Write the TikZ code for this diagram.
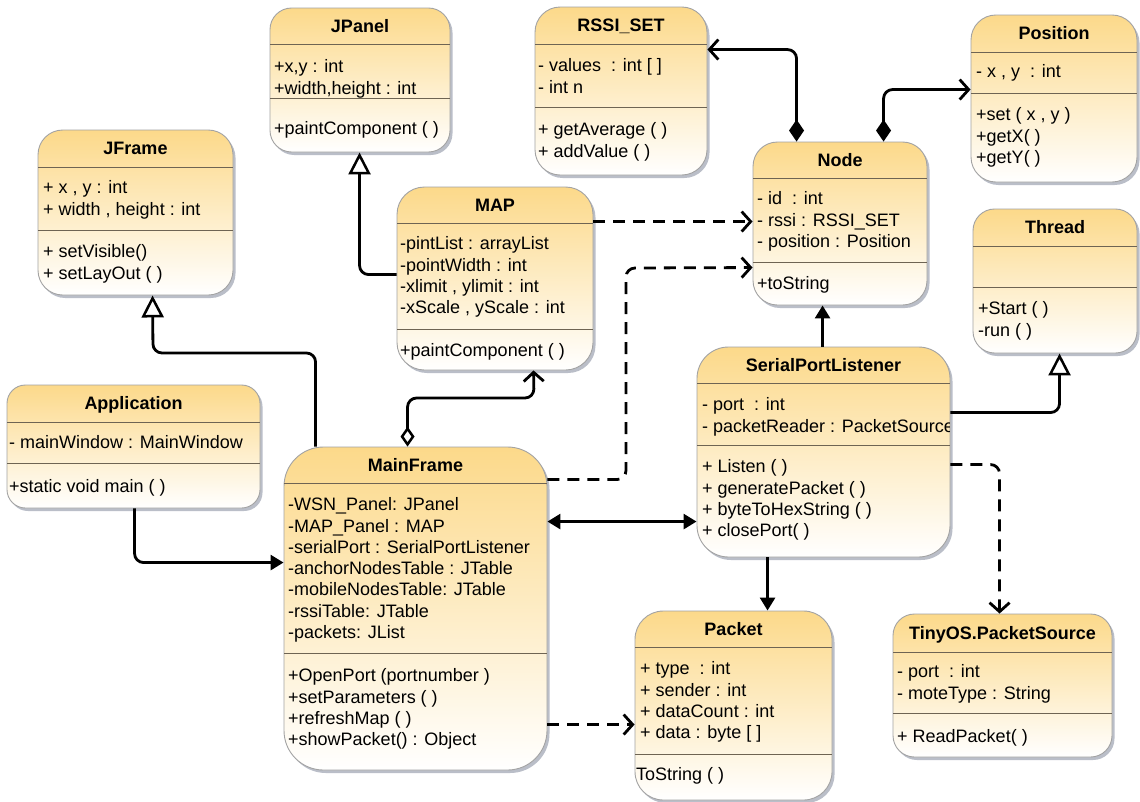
\documentclass[tikz,border=0pt]{standalone}
\usepackage{fontspec}
\setmainfont{Liberation Sans}
\usetikzlibrary{arrows.meta,shadows}
\definecolor{hdr}{HTML}{FCD98A}
\definecolor{bodybot}{HTML}{FFFFFF}
\definecolor{boxborder}{HTML}{A3A3A3}
\definecolor{sepc}{HTML}{6E6453}
\definecolor{shadowc}{HTML}{A9AEBB}
\newcommand{\cstrut}{\rule[-6.3pt]{0pt}{21.3pt}}
\newcommand{\umlbox}[8]{%
  \pgfmathsetmacro\bw{#4-#2}%
  \pgfmathsetmacro\bh{#5-#3}%
  \pgfmathsetmacro\br{0.15*min(\bw,\bh)}%
  \node[classbox, minimum width=\bw pt, minimum height=\bh pt, rounded corners=\br pt] (#1) at ({(#2+#4)/2},{(#3+#5)/2}) {};
  \draw[sepline] (#2,#6) -- (#4,#6);
  \draw[sepline] (#2,#7) -- (#4,#7);
  \node[titletext] (#1-title) at ({(#2+#4)/2},{(#3+#6)/2}) {#8};
}
\tikzset{
  classbox/.style={draw=boxborder, line width=0.9pt, top color=hdr, bottom color=bodybot,
    drop shadow={shadow xshift=2.5pt, shadow yshift=-3pt, fill=shadowc, opacity=0.8}},
  sepline/.style={draw=sepc, line width=1pt},
  titletext/.style={anchor=base, yshift=-6.4pt, inner sep=0pt, font=\bfseries\fontsize{18}{21.3}\selectfont},
  txt/.style={anchor=north west, yshift=9.5pt, inner sep=0pt, align=left, font=\fontsize{18}{21.3}\selectfont},
  conn/.style={line width=2.8pt, rounded corners=9pt, line join=round},
  gen/.style={conn, -{Triangle[length=22pt, width=22pt, fill=white, line width=2.5pt]}},
  dep/.style={conn, dash pattern=on 12pt off 8pt, -{Straight Barb[length=9pt, width=20pt, line width=2.8pt]}},
  assoc/.style={conn, -{Triangle[length=13pt, width=15pt]}},
  bidir/.style={conn, {Triangle[length=13pt, width=15pt]}-{Triangle[length=13pt, width=15pt]}},
  comp/.style={conn, {Diamond[length=22pt, width=15pt]}-{Straight Barb[length=9pt, width=20pt, line width=2.8pt]}},
  agg/.style={conn, {Diamond[length=20pt, width=14pt, fill=white, line width=2.5pt]}-{Straight Barb[length=9pt, width=20pt, line width=2.8pt]}},
}
\begin{document}
\begin{tikzpicture}[x=1pt, y=-1pt]
\useasboundingbox (0,0) rectangle (1140,801);
\fill[white] (0,0) rectangle (1140,801);

% ---------- classes ----------
\umlbox{jframe}{38}{130}{233}{295}{167}{230}{JFrame}
\node[txt] (jframe-a) at (43,188) {\cstrut+ x , y : int\\+ width , height : int};
\node[txt] (jframe-m) at (43,252) {\cstrut+ setVisible()\\+ setLayOut ( )};

\umlbox{jpanel}{270}{8}{450}{152}{44}{98}{JPanel}
\node[txt] (jpanel-a) at (274,67) {\cstrut+x,y : int\\+width,height : int};
\node[txt] (jpanel-m) at (274,129) {\cstrut+paintComponent ( )};

\umlbox{rssi}{535}{7}{707}{175}{44}{107}{RSSI\_SET}
\node[txt] (rssi-a) at (538,66) {\cstrut- values\ \ : int [ ]\\- int n};
\node[txt] (rssi-m) at (538,130) {\cstrut+ getAverage ( )\\+ addValue ( )};

\umlbox{map}{397}{187}{593}{370}{223}{329}{MAP}
\node[txt] (map-a) at (400,244) {\cstrut-pintList : arrayList\\-pointWidth : int\\-xlimit , ylimit : int\\-xScale , yScale : int};
\node[txt] (map-m) at (400,351) {\cstrut+paintComponent ( )};

\umlbox{position}{971}{15}{1137}{182}{52}{93}{Position}
\node[txt] (position-a) at (976,72) {\cstrut- x , y\ \ : int};
\node[txt] (position-m) at (976,115) {\cstrut+set ( x , y )\\+getX( )\\+getY( )};

\umlbox{nodecls}{753}{142}{927}{305}{178}{262}{Node}
\node[txt] (nodecls-a) at (757,199) {\cstrut- id\ \ : int\\- rssi : RSSI\_SET\\- position : Position};
\node[txt] (nodecls-m) at (757,284) {\cstrut+toString};

\umlbox{thread}{973}{209}{1137}{353}{246}{287}{Thread}
\node[txt] (thread-m) at (978,309) {\cstrut+Start ( )\\-run ( )};

\umlbox{app}{7}{385}{260}{508}{422}{463}{Application}
\node[txt] (app-a) at (9,443) {\cstrut- mainWindow : MainWindow};
\node[txt] (app-m) at (9,487) {\cstrut+static void main ( )};

\umlbox{mainframe}{284}{447}{547}{770}{483}{653}{MainFrame}
\node[txt] (mainframe-a) at (288,505) {\cstrut-WSN\_Panel: JPanel\\-MAP\_Panel : MAP\\-serialPort : SerialPortListener\\-anchorNodesTable : JTable\\-mobileNodesTable: JTable\\-rssiTable: JTable\\-packets: JList};
\node[txt] (mainframe-m) at (288,676) {\cstrut+OpenPort (portnumber )\\+setParameters ( )\\+refreshMap ( )\\+showPacket() : Object};

\umlbox{spl}{697}{347}{950}{557}{383}{445}{SerialPortListener}
\begin{scope}
  \clip (spl.north west) rectangle ([xshift=-1pt]spl.south east);
  \node[txt] (spl-a) at (702,405) {\cstrut- port\ \ : int\\- packetReader : PacketSource};
\end{scope}
\node[txt] (spl-m) at (702,467) {\cstrut+ Listen ( )\\+ generatePacket ( )\\+ byteToHexString ( )\\+ closePort( )};

\umlbox{packet}{635}{611}{832}{800}{647}{754}{Packet}
\node[txt] (packet-a) at (640,669) {\cstrut+ type\ \ : int\\+ sender : int\\+ dataCount : int\\+ data : byte [ ]};
\node[txt] (packet-m) at (636,775) {\cstrut ToString ( )};

\umlbox{tinyos}{893}{614}{1112}{757}{652}{713}{TinyOS.PacketSource}
\node[txt] (tinyos-a) at (897,672) {\cstrut- port\ \ : int\\- moteType : String};
\node[txt] (tinyos-m) at (897,737) {\cstrut+ ReadPacket( )};

% ---------- bend points ----------
\coordinate (b1) at (153,353);
\coordinate (b3) at (534,398);
\coordinate (b5) at (626,268);

% ---------- connectors ----------
\draw[gen] ([xshift=32pt]mainframe.north west) |- (b1) -- ([xshift=115pt]jframe.south west);
\draw[gen] ([yshift=-88pt]map.north west) -| ([xshift=90pt]jpanel.south west);
\draw[agg] ([xshift=124pt]mainframe.north west) |- (b3) -- ([xshift=137pt]map.south west);
\draw[dep] ([yshift=-35pt]map.north east) -- ([yshift=-80pt]nodecls.north west);
\draw[dep] ([yshift=-33pt]mainframe.north east) -| (b5) -- ([yshift=-126pt]nodecls.north west);
\draw[bidir] ([yshift=-75pt]mainframe.north east) -- ([yshift=-175pt]spl.north west);
\draw[assoc] ([xshift=128pt]app.south west) |- ([yshift=-116pt]mainframe.north west);
\draw[assoc] ([xshift=126pt]spl.north west) -- ([xshift=70pt]nodecls.south west);
\draw[gen] ([yshift=-66pt]spl.north east) -| ([xshift=87pt]thread.south west);
\draw[dep] ([yshift=-118pt]spl.north east) -| ([xshift=107pt]tinyos.north west);
\draw[assoc] ([xshift=71pt]spl.south west) -- ([xshift=133pt]packet.north west);
\draw[dep] ([yshift=-278pt]mainframe.north east) -- ([yshift=-114pt]packet.north west);
\draw[comp] ([xshift=44pt]nodecls.north west) |- ([yshift=-43pt]rssi.north east);
\draw[comp] ([xshift=131pt]nodecls.north west) |- ([yshift=-75pt]position.north west);
\end{tikzpicture}
\end{document}
